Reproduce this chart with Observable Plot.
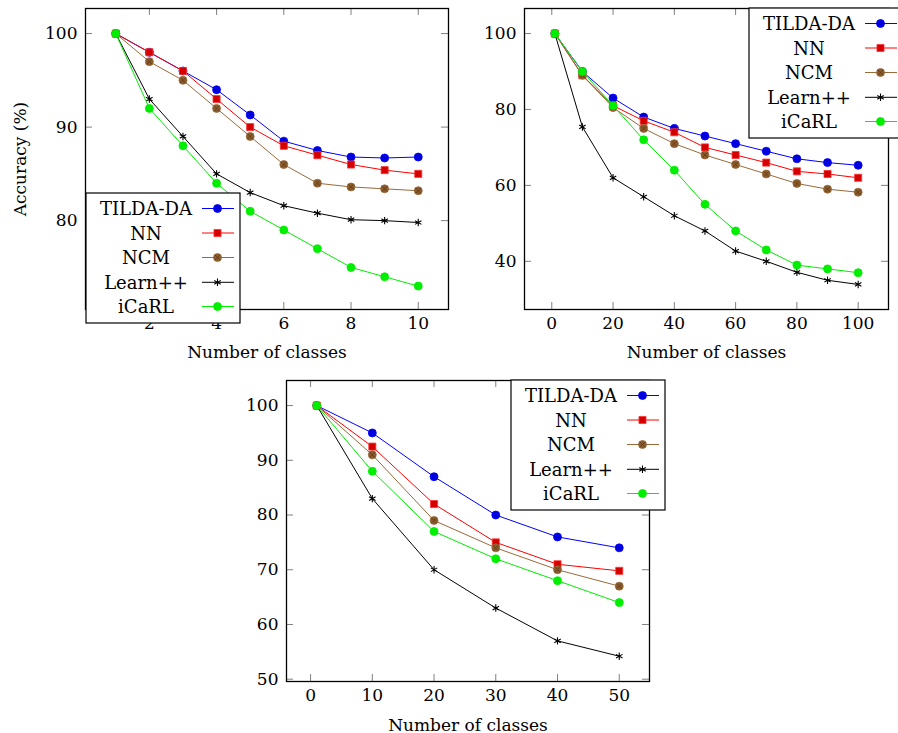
<!DOCTYPE html>
<html>
<head>
<meta charset="utf-8">
<script src="https://cdn.jsdelivr.net/npm/d3@7"></script>
<script src="https://cdn.jsdelivr.net/npm/@observablehq/plot@0.6"></script>
<style>
  html, body { margin: 0; padding: 0; background: #fff; overflow: hidden; }
  #root { position: relative; width: 898px; height: 733px; font-family: "DejaVu Serif", serif; }
  .panel { position: absolute; }
  .panel svg { overflow: visible; }
  #legends { position: absolute; left: 0; top: 0; }
</style>
</head>
<body>
<div id="root"></div>
<script>
// ---------- Data ----------
const methods = ["TILDA-DA", "NN", "NCM", "Learn++", "iCaRL"];

// Panel A (10 classes)
const classesA = [1, 2, 3, 4, 5, 6, 7, 8, 9, 10];
const tildaA = [100, 98, 96, 94, 91.3, 88.5, 87.5, 86.8, 86.7, 86.8];
const nnA    = [100, 98, 96, 93, 90, 88, 87, 86, 85.4, 85.0];
const ncmA   = [100, 97, 95, 92, 89, 86, 84, 83.6, 83.4, 83.2];
const learnA = [100, 93, 89, 85, 83, 81.6, 80.8, 80.1, 80.0, 79.8];
const icarlA = [100, 92, 88, 84, 81, 79, 77, 75, 74, 73];
const xTicksA = [2, 4, 6, 8, 10];
const yTicksA = [80, 90, 100];

// Panel B (100 classes)
const classesB = [1, 10, 20, 30, 40, 50, 60, 70, 80, 90, 100];
const tildaB = [100, 90, 83, 78, 75, 73, 71, 69, 67, 66, 65.3];
const nnB    = [100, 89, 81, 77, 74, 70, 68, 66, 63.7, 63, 62];
const ncmB   = [100, 89, 80.5, 75, 71, 68, 65.5, 63, 60.5, 59, 58.2];
const learnB = [100, 75.4, 62, 57, 52, 48, 42.7, 40, 37.1, 35, 33.9];
const icarlB = [100, 90, 81, 72, 64, 55, 48, 43, 39, 38, 37];
const xTicksB = [0, 20, 40, 60, 80, 100];
const yTicksB = [40, 60, 80, 100];

// Panel C (50 classes)
const classesC = [1, 10, 20, 30, 40, 50];
const tildaC = [100, 95, 87, 80, 76, 74];
const nnC    = [100, 92.5, 82, 75, 71, 69.8];
const ncmC   = [100, 91, 79, 74, 70, 67];
const learnC = [100, 83, 70, 63, 57, 54.2];
const icarlC = [100, 88, 77, 72, 68, 64];
const xTicksC = [0, 10, 20, 30, 40, 50];
const yTicksC = [50, 60, 70, 80, 90, 100];

const xLabel = "Number of classes";
const yLabel = "Accuracy (%)";

// ---------- Styles ----------
const FONT = '"DejaVu Serif", serif';
const FS = 17;      // ticks and axis labels
const FS_LEG = 18;  // legend entries
const styles = {
  "TILDA-DA": {stroke: "#0000ff", fill: "#0000dd", dotStroke: "#0000ff", symbol: "circle", r: 4},
  "NN":       {stroke: "#ff0000", fill: "#d40000", dotStroke: "#ff3333", symbol: "square", r: 4},
  "NCM":      {stroke: "#9a6a3a", fill: "#8a5a2b", dotStroke: "#9a6a3a", symbol: "circle", r: 4, hatch: true},
  "Learn++":  {stroke: "#000000", fill: "none", dotStroke: "#000000", symbol: "asterisk", r: 3.5},
  "iCaRL":    {stroke: "#00ee00", fill: "#00ee00", dotStroke: "#00ee00", symbol: "circle", r: 4}
};

function seriesMarks(xs, ysList) {
  const marks = [];
  methods.forEach((m, i) => {
    const st = styles[m];
    const rows = xs.map((x, j) => ({x, y: ysList[i][j]}));
    marks.push(Plot.line(rows, {x: "x", y: "y", stroke: st.stroke, strokeWidth: 1}));
    if (st.symbol === "asterisk") {
      marks.push(Plot.dot(rows, {x: "x", y: "y", symbol: "asterisk", r: st.r, stroke: st.dotStroke, strokeWidth: 1.1}));
    } else {
      marks.push(Plot.dot(rows, {x: "x", y: "y", symbol: st.symbol, r: st.r, fill: st.fill, stroke: st.dotStroke, strokeWidth: 0.8}));
      if (st.hatch) {
        marks.push(Plot.dot(rows, {x: "x", y: "y", symbol: "times", r: 2.6, stroke: "#5a3815", strokeWidth: 0.7}));
      }
    }
  });
  return marks;
}

function panel(cfg) {
  const innerW = cfg.width - cfg.marginLeft - cfg.marginRight;
  const innerH = cfg.height - cfg.marginTop - cfg.marginBottom;
  const TL = 7;
  const tickStroke = "#808080";
  const marks = [
    Plot.axisX({ticks: cfg.xTicks, tickSize: 0, tickPadding: 7, label: null, fontSize: FS, fontFamily: FONT, tickFormat: d => String(d)}),
    Plot.axisY({ticks: cfg.yTicks, tickSize: 0, tickPadding: 8, label: null, fontSize: FS, fontFamily: FONT, tickFormat: d => String(d)}),
    Plot.tickX(cfg.xTicks, {insetTop: innerH - TL, stroke: tickStroke}),
    Plot.tickX(cfg.xTicks, {insetBottom: innerH - TL, stroke: tickStroke}),
    Plot.tickY(cfg.yTicks, {insetRight: innerW - TL, stroke: tickStroke}),
    Plot.tickY(cfg.yTicks, {insetLeft: innerW - TL, stroke: tickStroke}),
    ...seriesMarks(cfg.xs, cfg.ys),
    Plot.frame({stroke: "#000", strokeWidth: 1.3}),
    Plot.text([xLabel], {frameAnchor: "bottom", dy: cfg.xLabelDy, lineAnchor: "middle", fontSize: FS, fontFamily: FONT})
  ];
  if (cfg.yLabel) {
    marks.push(Plot.text([cfg.yLabel], {frameAnchor: "left", dx: -65, rotate: -90, lineAnchor: "middle", textAnchor: "middle", fontSize: FS, fontFamily: FONT}));
  }
  const svg = Plot.plot({
    width: cfg.width, height: cfg.height,
    marginLeft: cfg.marginLeft, marginRight: cfg.marginRight,
    marginTop: cfg.marginTop, marginBottom: cfg.marginBottom,
    style: {fontFamily: FONT, fontSize: FS + "px", color: "#000", background: "transparent", overflow: "visible"},
    x: {domain: cfg.xDomain},
    y: {domain: cfg.yDomain},
    marks
  });
  const div = document.createElement("div");
  div.className = "panel";
  div.style.left = cfg.left + "px";
  div.style.top = cfg.top + "px";
  div.appendChild(svg);
  document.getElementById("root").appendChild(div);
}

// Panel A: frame x 85..448, y 8..309
panel({
  left: 0, top: 0, width: 460, height: 370,
  marginLeft: 85, marginRight: 12, marginTop: 8, marginBottom: 61,
  xDomain: [0.1, 10.9], yDomain: [70.5, 102.68],
  xTicks: xTicksA, yTicks: yTicksA,
  xs: classesA, ys: [tildaA, nnA, ncmA, learnA, icarlA],
  xLabelDy: 43, yLabel: yLabel
});

// Panel B: frame x 524..888, y 8..309
panel({
  left: 460, top: 0, width: 438, height: 370,
  marginLeft: 64, marginRight: 10, marginTop: 8, marginBottom: 61,
  xDomain: [-8.9, 109.9], yDomain: [27.3, 106.6],
  xTicks: xTicksB, yTicks: yTicksB,
  xs: classesB, ys: [tildaB, nnB, ncmB, learnB, icarlB],
  xLabelDy: 43
});

// Panel C: frame x 286..649, y 380..681
panel({
  left: 200, top: 370, width: 500, height: 363,
  marginLeft: 86, marginRight: 51, marginTop: 10, marginBottom: 52,
  xDomain: [-3.9, 54.9], yDomain: [49.58, 104.58],
  xTicks: xTicksC, yTicks: yTicksC,
  xs: classesC, ys: [tildaC, nnC, ncmC, learnC, icarlC],
  xLabelDy: 44
});

// ---------- Legends ----------
const legendSvg = d3.select("#root").append("svg")
  .attr("id", "legends").attr("width", 898).attr("height", 733)
  .attr("font-family", FONT).attr("font-size", FS_LEG);

const rowOffsets = [15.5, 40, 64.5, 89.3, 113.5];
function legend(left, top) {
  const g = legendSvg.append("g").attr("transform", `translate(${left},${top})`);
  g.append("rect").attr("x", 0).attr("y", 0).attr("width", 154).attr("height", 130)
    .attr("fill", "#fff").attr("stroke", "#000").attr("stroke-width", 1.2);
  methods.forEach((m, i) => {
    const st = styles[m];
    const y = rowOffsets[i];
    g.append("text").attr("x", 60).attr("y", y).attr("text-anchor", "middle")
      .attr("dominant-baseline", "central").attr("fill", "#000")
      .attr("font-family", FONT).attr("font-size", FS_LEG).text(m);
    g.append("line").attr("x1", 116).attr("x2", 148).attr("y1", y).attr("y2", y)
      .attr("stroke", st.stroke).attr("stroke-width", 1);
    const symType = st.symbol === "square" ? d3.symbolSquare : st.symbol === "asterisk" ? d3.symbolAsterisk : d3.symbolCircle;
    const size = Math.PI * st.r * st.r;
    const p = g.append("path").attr("transform", `translate(131.5,${y})`)
      .attr("d", d3.symbol(symType, size)());
    if (st.symbol === "asterisk") {
      p.attr("fill", "none").attr("stroke", st.dotStroke).attr("stroke-width", 1.1);
    } else {
      p.attr("fill", st.fill).attr("stroke", st.dotStroke).attr("stroke-width", 0.8);
      if (st.hatch) {
        g.append("path").attr("transform", `translate(131.5,${y})`)
          .attr("d", d3.symbol(d3.symbolTimes, Math.PI * 2.6 * 2.6)())
          .attr("fill", "none").attr("stroke", "#5a3815").attr("stroke-width", 0.7);
      }
    }
  });
}
legend(86, 193);
legend(749, 8);
legend(511, 380);
</script>
</body>
</html>
